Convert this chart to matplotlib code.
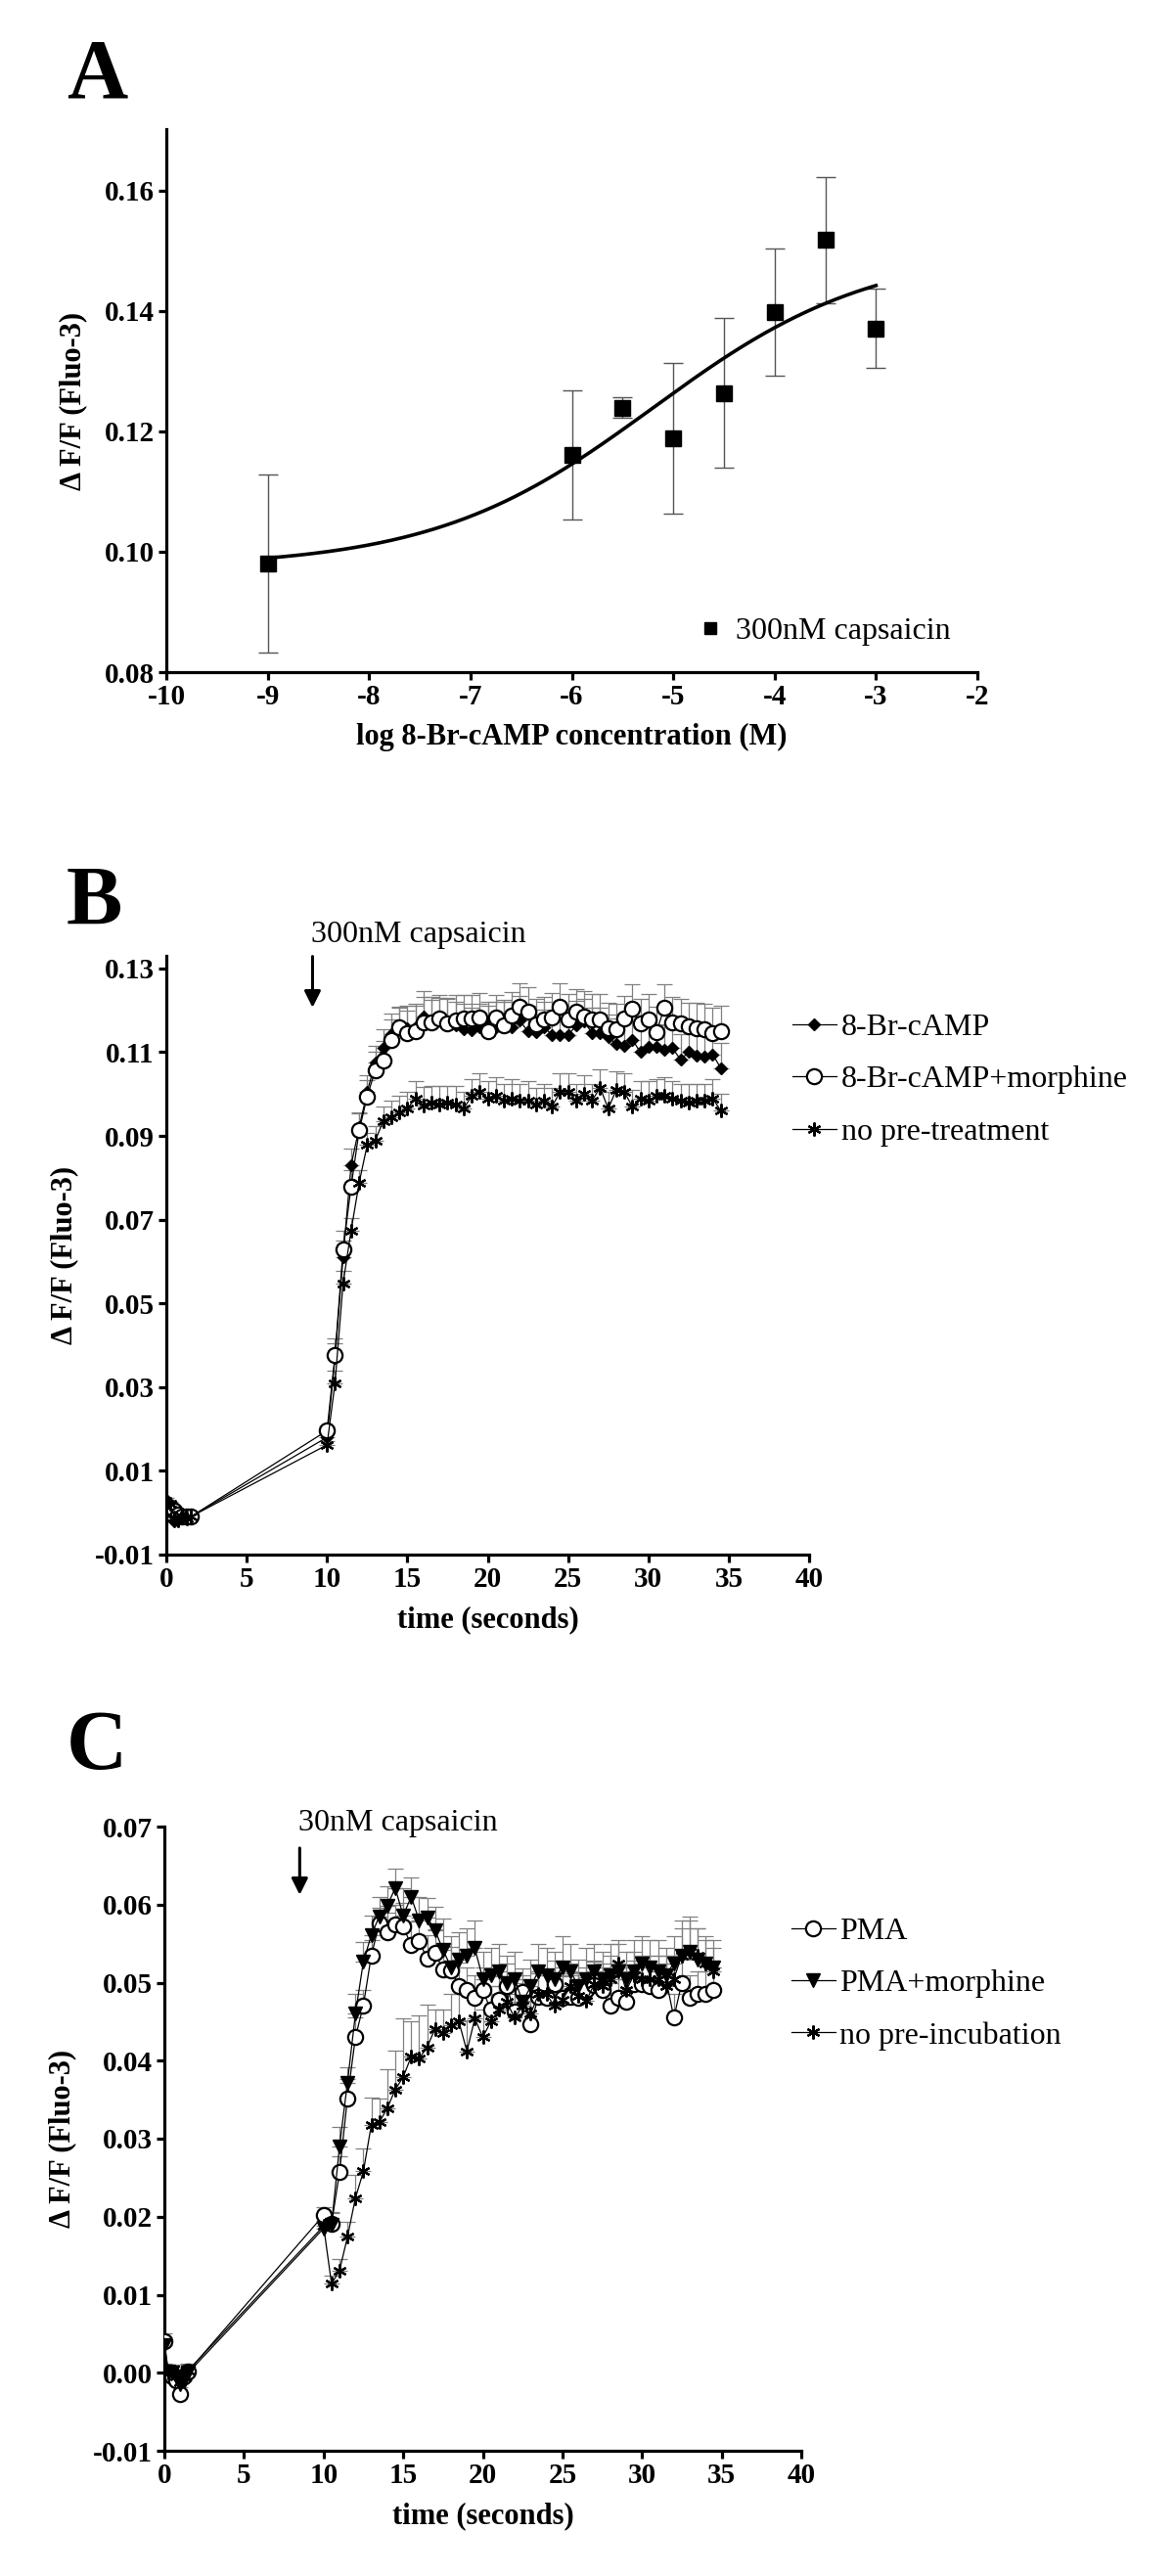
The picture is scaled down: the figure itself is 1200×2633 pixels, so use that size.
import numpy as np
import matplotlib
matplotlib.use("Agg")
import matplotlib.pyplot as plt

plt.rcParams['font.family'] = ['Liberation Serif', 'DejaVu Serif']
plt.rcParams['axes.unicode_minus'] = False

# ---------------- Panel A data ----------------
a_logconc = [-9, -6, -5.5, -5, -4.5, -4, -3.5, -3]
a_resp = [0.0981, 0.1161, 0.1239, 0.1189, 0.1264, 0.1398, 0.1518, 0.1371]
a_sem = [0.0148, 0.0107, 0.0017, 0.0125, 0.0125, 0.0106, 0.0105, 0.0066]
# fitted sigmoidal dose-response (variable slope) parameters
a_fit_bottom = 0.0974
a_fit_top = 0.1504
a_fit_logec50 = -5.2
a_fit_hill = 0.4
a_fit_range = (-9, -3)

# ---------------- Panel B data ----------------
b_time = [0, 0.25, 0.5, 0.75, 1.0, 1.25, 1.5] + list(np.arange(10, 35, 0.5))
b_cAMP = [0.0030, 0.0020, -0.0020, -0.0015, -0.0012, -0.0010, -0.0010,
          0.0180, 0.0370, 0.0610, 0.0830, 0.0920, 0.1005, 0.1075, 0.1110, 0.1143, 0.1155,
          0.1157, 0.1160, 0.1185, 0.1170, 0.1175, 0.1170, 0.1165, 0.1155, 0.1152, 0.1160,
          0.1165, 0.1160, 0.1165, 0.1160, 0.1175, 0.1150, 0.1147, 0.1160, 0.1141, 0.1141,
          0.1141, 0.1163, 0.1173, 0.1145, 0.1145, 0.1135, 0.1120, 0.1115, 0.1130, 0.1100,
          0.1112, 0.1112, 0.1105, 0.1110, 0.1082, 0.1100, 0.1092, 0.1090, 0.1095, 0.1062]
b_cAMP_sem = [0.0005, 0.0005, 0.0005, 0.0005, 0.0005, 0.0005, 0.0005,
              0.0010, 0.0035, 0.0040, 0.0040, 0.0035, 0.0040, 0.0040, 0.0045, 0.0050, 0.0050,
              0.0055, 0.0055, 0.0060, 0.0055, 0.0055, 0.0060, 0.0055, 0.0060, 0.0055, 0.0055,
              0.0055, 0.0060, 0.0055, 0.0060, 0.0060, 0.0060, 0.0055, 0.0060, 0.0060, 0.0055,
              0.0060, 0.0060, 0.0055, 0.0060, 0.0060, 0.0055, 0.0060, 0.0060, 0.0055, 0.0060,
              0.0060, 0.0055, 0.0060, 0.0055, 0.0060, 0.0060, 0.0055, 0.0060, 0.0060, 0.0060]
b_cAMP_morph = [0.0014, 0.0012, 0.0005, -0.0005, -0.0008, -0.0010, -0.0010,
                0.0196, 0.0377, 0.0629, 0.0779, 0.0913, 0.0994, 0.1057, 0.1081, 0.1129, 0.1159,
                0.1145, 0.1150, 0.1171, 0.1171, 0.1181, 0.1168, 0.1176, 0.1181, 0.1181, 0.1182,
                0.1151, 0.1182, 0.1165, 0.1188, 0.1209, 0.1196, 0.1167, 0.1178, 0.1182, 0.1209,
                0.1178, 0.1196, 0.1186, 0.1178, 0.1178, 0.1158, 0.1155, 0.1180, 0.1203, 0.1168,
                0.1178, 0.1148, 0.1207, 0.1172, 0.1168, 0.1162, 0.1158, 0.1155, 0.1145, 0.1150]
b_cAMP_morph_sem = [0.0005, 0.0005, 0.0005, 0.0005, 0.0005, 0.0005, 0.0005,
                    0.0010, 0.0040, 0.0045, 0.0040, 0.0040, 0.0040, 0.0045, 0.0045, 0.0050, 0.0050,
                    0.0055, 0.0060, 0.0060, 0.0060, 0.0055, 0.0060, 0.0060, 0.0055, 0.0055, 0.0060,
                    0.0060, 0.0055, 0.0060, 0.0055, 0.0055, 0.0060, 0.0060, 0.0055, 0.0060, 0.0055,
                    0.0060, 0.0055, 0.0060, 0.0060, 0.0060, 0.0060, 0.0060, 0.0055, 0.0060, 0.0060,
                    0.0060, 0.0060, 0.0055, 0.0060, 0.0060, 0.0055, 0.0060, 0.0060, 0.0060, 0.0060]
b_none = [0.0015, 0.0022, -0.0012, -0.0018, -0.0008, -0.0013, -0.0010,
          0.0162, 0.0310, 0.0548, 0.0674, 0.0788, 0.0878, 0.0888, 0.0936, 0.0945, 0.0955,
          0.0965, 0.0990, 0.0972, 0.0980, 0.0975, 0.0980, 0.0975, 0.0965, 0.0995, 0.1005,
          0.0990, 0.0995, 0.0985, 0.0990, 0.0985, 0.0985, 0.0975, 0.0985, 0.0970, 0.1005,
          0.1005, 0.0985, 0.1000, 0.0985, 0.1015, 0.0965, 0.1010, 0.1005, 0.0970, 0.0990,
          0.0985, 0.0995, 0.0995, 0.0990, 0.0985, 0.0980, 0.0985, 0.0985, 0.0990, 0.0960]
b_none_sem = [0.0005, 0.0005, 0.0005, 0.0005, 0.0005, 0.0005, 0.0005,
              0.0010, 0.0030, 0.0030, 0.0030, 0.0030, 0.0030, 0.0035, 0.0035, 0.0040, 0.0040,
              0.0040, 0.0040, 0.0045, 0.0040, 0.0045, 0.0040, 0.0045, 0.0040, 0.0040, 0.0045,
              0.0040, 0.0045, 0.0040, 0.0045, 0.0040, 0.0045, 0.0040, 0.0040, 0.0045, 0.0045,
              0.0045, 0.0040, 0.0045, 0.0040, 0.0045, 0.0040, 0.0045, 0.0045, 0.0040, 0.0040,
              0.0045, 0.0040, 0.0045, 0.0040, 0.0040, 0.0045, 0.0040, 0.0040, 0.0045, 0.0040]

# ---------------- Panel C data ----------------
c_time = [0, 0.25, 0.5, 0.75, 1.0, 1.25, 1.5] + list(np.arange(10, 35, 0.5))
c_pma = [0.0040, 0.0000, -0.0005, -0.0010, -0.0027, -0.0005, 0.0002,
         0.0202, 0.0191, 0.0257, 0.0352, 0.0430, 0.0471, 0.0535, 0.0576, 0.0565, 0.0575,
         0.0572, 0.0548, 0.0553, 0.0531, 0.0538, 0.0517, 0.0516, 0.0496, 0.0490, 0.0480,
         0.0490, 0.0465, 0.0478, 0.0495, 0.0463, 0.0488, 0.0447, 0.0482, 0.0480, 0.0498,
         0.0480, 0.0482, 0.0480, 0.0490, 0.0497, 0.0490, 0.0470, 0.0480, 0.0475, 0.0498,
         0.0498, 0.0495, 0.0490, 0.0505, 0.0455, 0.0500, 0.0480, 0.0485, 0.0485, 0.0490]
c_pma_sem = [0.0010, 0.0008, 0.0008, 0.0008, 0.0008, 0.0008, 0.0008,
             0.0010, 0.0015, 0.0020, 0.0025, 0.0025, 0.0020, 0.0020, 0.0020, 0.0025, 0.0025,
             0.0030, 0.0030, 0.0030, 0.0030, 0.0030, 0.0030, 0.0030, 0.0030, 0.0030, 0.0030,
             0.0030, 0.0030, 0.0030, 0.0030, 0.0030, 0.0030, 0.0030, 0.0030, 0.0030, 0.0030,
             0.0030, 0.0030, 0.0030, 0.0030, 0.0030, 0.0030, 0.0030, 0.0030, 0.0030, 0.0030,
             0.0030, 0.0030, 0.0030, 0.0030, 0.0030, 0.0030, 0.0030, 0.0030, 0.0030, 0.0030]
c_pma_morph = [0.0035, 0.0002, 0.0000, -0.0005, -0.0015, -0.0010, 0.0000,
               0.0185, 0.0190, 0.0290, 0.0372, 0.0460, 0.0527, 0.0561, 0.0585, 0.0599, 0.0621,
               0.0586, 0.0610, 0.0580, 0.0584, 0.0567, 0.0542, 0.0520, 0.0530, 0.0535, 0.0544,
               0.0505, 0.0510, 0.0515, 0.0500, 0.0505, 0.0475, 0.0495, 0.0515, 0.0510, 0.0505,
               0.0520, 0.0515, 0.0495, 0.0505, 0.0515, 0.0505, 0.0510, 0.0515, 0.0505, 0.0515,
               0.0525, 0.0520, 0.0515, 0.0510, 0.0525, 0.0535, 0.0540, 0.0530, 0.0525, 0.0520]
c_pma_morph_sem = [0.0010, 0.0008, 0.0008, 0.0008, 0.0008, 0.0008, 0.0008,
                   0.0010, 0.0015, 0.0025, 0.0020, 0.0025, 0.0025, 0.0025, 0.0025, 0.0025, 0.0025,
                   0.0035, 0.0025, 0.0030, 0.0025, 0.0030, 0.0040, 0.0040, 0.0035, 0.0035, 0.0035,
                   0.0035, 0.0035, 0.0035, 0.0035, 0.0035, 0.0035, 0.0035, 0.0035, 0.0035, 0.0035,
                   0.0040, 0.0035, 0.0035, 0.0040, 0.0035, 0.0035, 0.0040, 0.0035, 0.0035, 0.0040,
                   0.0035, 0.0035, 0.0040, 0.0035, 0.0035, 0.0045, 0.0045, 0.0040, 0.0035, 0.0035]
c_none = [0.0003, 0.0000, 0.0002, -0.0005, -0.0012, -0.0005, 0.0003,
          0.0188, 0.0114, 0.0131, 0.0174, 0.0224, 0.0258, 0.0318, 0.0321, 0.0339, 0.0363,
          0.0379, 0.0405, 0.0403, 0.0417, 0.0441, 0.0436, 0.0445, 0.0450, 0.0412, 0.0454,
          0.0430, 0.0450, 0.0465, 0.0475, 0.0455, 0.0470, 0.0460, 0.0485, 0.0485, 0.0470,
          0.0478, 0.0495, 0.0483, 0.0477, 0.0498, 0.0495, 0.0505, 0.0525, 0.0490, 0.0510,
          0.0505, 0.0505, 0.0505, 0.0495, 0.0505, 0.0535, 0.0540, 0.0535, 0.0525, 0.0515]
c_none_sem = [0.0008, 0.0008, 0.0008, 0.0008, 0.0008, 0.0008, 0.0008,
              0.0010, 0.0010, 0.0015, 0.0020, 0.0030, 0.0030, 0.0035, 0.0030, 0.0050, 0.0050,
              0.0075, 0.0045, 0.0055, 0.0055, 0.0025, 0.0030, 0.0040, 0.0035, 0.0040, 0.0040,
              0.0035, 0.0035, 0.0030, 0.0030, 0.0030, 0.0030, 0.0030, 0.0030, 0.0030, 0.0030,
              0.0030, 0.0030, 0.0030, 0.0030, 0.0030, 0.0030, 0.0030, 0.0030, 0.0030, 0.0030,
              0.0030, 0.0030, 0.0030, 0.0030, 0.0030, 0.0035, 0.0040, 0.0035, 0.0030, 0.0030]

# ---------------- Styling helpers ----------------
W, H = 1200, 2633
fig = plt.figure(figsize=(W / 100, H / 100), dpi=100)

TICK_FS = 21
LABEL_FS = 22
TEXT_FS = 23
ERR_COLOR = '#808080'


def fpos(left, top, right, bottom):
    return [left / W, 1 - bottom / H, (right - left) / W, (bottom - top) / H]


def style_axes(ax):
    for s in ['top', 'right']:
        ax.spines[s].set_visible(False)
    for s in ['left', 'bottom']:
        ax.spines[s].set_linewidth(2.3)
    ax.tick_params(direction='out', length=6, width=2.3, labelsize=TICK_FS, pad=3)
    for lab in ax.get_xticklabels() + ax.get_yticklabels():
        lab.set_fontweight('bold')


# ---------------- Panel A ----------------
axA = fig.add_axes(fpos(170, 132, 999, 687))
axA.errorbar(a_logconc, a_resp, yerr=a_sem, fmt='none', ecolor='#555555',
             elinewidth=1.0, capsize=7, capthick=1.0, zorder=2)
xfit = np.linspace(a_fit_range[0], a_fit_range[1], 300)
yfit = a_fit_bottom + (a_fit_top - a_fit_bottom) / (1 + 10 ** ((a_fit_logec50 - xfit) * a_fit_hill))
axA.plot(xfit, yfit, color='black', lw=2.6, zorder=3)
axA.plot(a_logconc, a_resp, ls='none', marker='s', ms=11, color='black',
         label='300nM capsaicin', zorder=4)
axA.set_xlim(-10, -2)
axA.set_ylim(0.08, 0.1702)
axA.set_xticks(np.arange(-10, -1, 1))
axA.set_yticks([0.08, 0.10, 0.12, 0.14, 0.16])
axA.set_yticklabels(['%.2f' % v for v in [0.08, 0.10, 0.12, 0.14, 0.16]])
style_axes(axA)
axA.set_xlabel('log 8-Br-cAMP concentration (M)', fontsize=LABEL_FS, fontweight='bold', labelpad=9)
axA.set_ylabel('Δ F/F (Fluo-3)', fontsize=LABEL_FS, fontweight='bold', labelpad=12)
axA.legend(loc='lower left', bbox_to_anchor=(0.64, 0.02), frameon=False, fontsize=TEXT_FS,
           handlelength=0.6, handletextpad=0.5, borderpad=0, numpoints=1, markerscale=0.85)

# ---------------- Panel B ----------------
axB = fig.add_axes(fpos(170, 977, 827, 1589))
series_B = [
    (b_cAMP, b_cAMP_sem, dict(marker='D', ms=6, mfc='black', mec='black'), '8-Br-cAMP'),
    (b_cAMP_morph, b_cAMP_morph_sem, dict(marker='o', ms=11, mfc='white', mec='black', mew=1.6),
     '8-Br-cAMP+morphine'),
    (b_none, b_none_sem, dict(marker=(6, 2, 0), ms=10, mfc='black', mec='black', mew=1.6),
     'no pre-treatment'),
]
handles = []
for vals, sem, mk, lab in series_B:
    axB.errorbar(b_time, vals, yerr=[np.zeros(len(sem)), sem], fmt='none', ecolor=ERR_COLOR,
                 elinewidth=0.9, capsize=6, capthick=0.9, zorder=2)
for vals, sem, mk, lab in series_B:
    h, = axB.plot(b_time, vals, color='black', lw=0.9, label=lab, zorder=3, **mk)
    handles.append(h)
axB.set_xlim(0, 40)
axB.set_ylim(-0.01, 0.133)
axB.set_xticks(np.arange(0, 41, 5))
b_yt = [-0.01, 0.01, 0.03, 0.05, 0.07, 0.09, 0.11, 0.13]
axB.set_yticks(b_yt)
axB.set_yticklabels(['%.2f' % v for v in b_yt])
style_axes(axB)
axB.set_xlabel('time (seconds)', fontsize=LABEL_FS, fontweight='bold', labelpad=9)
axB.set_ylabel('Δ F/F (Fluo-3)', fontsize=LABEL_FS, fontweight='bold', labelpad=12)
axB.legend(handles=handles, loc='upper left', bbox_to_anchor=(0.95, 0.93), frameon=False,
           fontsize=TEXT_FS, handlelength=1.4, handletextpad=0.15, borderpad=0,
           labelspacing=0.75, numpoints=1)
axB.annotate('', xy=(9.1, 0.1200), xytext=(9.1, 0.1335),
             arrowprops=dict(arrowstyle='-|>', color='black', lw=2.2, mutation_scale=25),
             annotation_clip=False)
axB.text(9.0, 0.1362, '300nM capsaicin', fontsize=TEXT_FS, ha='left', va='baseline', clip_on=False)

# ---------------- Panel C ----------------
axC = fig.add_axes(fpos(168, 1867, 819, 2505))
series_C = [
    (c_pma, c_pma_sem, dict(marker='o', ms=11, mfc='white', mec='black', mew=1.6), 'PMA'),
    (c_pma_morph, c_pma_morph_sem, dict(marker='v', ms=10, mfc='black', mec='black'), 'PMA+morphine'),
    (c_none, c_none_sem, dict(marker=(6, 2, 0), ms=10, mfc='black', mec='black', mew=1.6),
     'no pre-incubation'),
]
handles = []
for vals, sem, mk, lab in series_C:
    axC.errorbar(c_time, vals, yerr=[np.zeros(len(sem)), sem], fmt='none', ecolor=ERR_COLOR,
                 elinewidth=0.9, capsize=6, capthick=0.9, zorder=2)
for vals, sem, mk, lab in series_C:
    h, = axC.plot(c_time, vals, color='black', lw=0.9, label=lab, zorder=3, **mk)
    handles.append(h)
axC.set_xlim(0, 40)
axC.set_ylim(-0.01, 0.07)
axC.set_xticks(np.arange(0, 41, 5))
c_yt = [-0.01, 0.00, 0.01, 0.02, 0.03, 0.04, 0.05, 0.06, 0.07]
axC.set_yticks(c_yt)
axC.set_yticklabels(['%.2f' % v for v in c_yt])
style_axes(axC)
axC.set_xlabel('time (seconds)', fontsize=LABEL_FS, fontweight='bold', labelpad=9)
axC.set_ylabel('Δ F/F (Fluo-3)', fontsize=LABEL_FS, fontweight='bold', labelpad=12)
axC.legend(handles=handles, loc='upper left', bbox_to_anchor=(0.96, 0.88), frameon=False,
           fontsize=TEXT_FS, handlelength=1.4, handletextpad=0.15, borderpad=0,
           labelspacing=0.75, numpoints=1)
axC.annotate('', xy=(8.5, 0.0609), xytext=(8.5, 0.0676),
             arrowprops=dict(arrowstyle='-|>', color='black', lw=2.2, mutation_scale=25),
             annotation_clip=False)
axC.text(8.4, 0.0695, '30nM capsaicin', fontsize=TEXT_FS, ha='left', va='baseline', clip_on=False)

# ---------------- Panel letters ----------------
for letter, y in [('A', 100), ('B', 945), ('C', 1808)]:
    fig.text(68 / W, 1 - y / H, letter, fontsize=62, fontweight='bold', ha='left', va='baseline')

fig.savefig('out.png', dpi=100, facecolor='white')
